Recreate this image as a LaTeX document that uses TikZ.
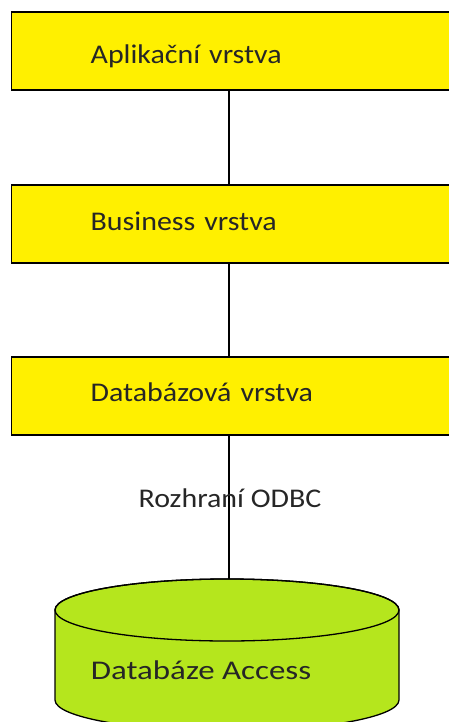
\documentclass[tikz,border=0pt]{standalone}
\usepackage{fontspec}
\setmainfont[FakeStretch=1.11]{Carlito}
\newfontfamily\dbfont[FakeStretch=1.22]{Carlito}
\definecolor{layeryellow}{RGB}{255,240,0}
\definecolor{dblime}{RGB}{181,230,29}

\begin{document}
\begin{tikzpicture}[x=1pt, y=1pt,
    every node/.style={font=\fontsize{27}{32}\selectfont, text=black!85},
    layer/.style={draw, line width=1.3pt, fill=layeryellow, anchor=west,
                  minimum height=78pt, text width=300pt, inner xsep=79pt, align=left}]

% three layers, database below
\clip (0,0) rectangle (449,-722);

\coordinate (axis) at (229,0);

\node[layer] (app) at (11,-51) {\raisebox{-5pt}[\height][\depth]{Aplikační vrstva}};
\node[layer] (bus) at (11,-224) {\raisebox{3pt}[\height][\depth]{Business vrstva}};
\node[layer] (dal) at (11,-396) {\raisebox{4pt}[\height][\depth]{Databázová vrstva}};

% database cylinder
\draw[line width=1.3pt, fill=dblime] (55,-610) -- (55,-700)
    arc[start angle=180, end angle=360, x radius=172, y radius=31]
    -- (399,-610) arc[start angle=0, end angle=180, x radius=172, y radius=31] -- cycle;
\draw[line width=1.3pt] (227,-610) ellipse[x radius=172, y radius=31];
\coordinate (dbtop) at (229,-579);
\node[font=\dbfont\fontsize{27}{32}\selectfont] (db) at (201,-670) {Databáze Access};

\draw[line width=1.2pt] (app.south -| axis) -- (bus.north -| axis);
\draw[line width=1.2pt] (bus.south -| axis) -- (dal.north -| axis);
\draw[line width=1.2pt] (dal.south -| axis) -- (dbtop);

\node (odbc) at (230,-498) {Rozhraní ODBC};

\end{tikzpicture}
\end{document}
